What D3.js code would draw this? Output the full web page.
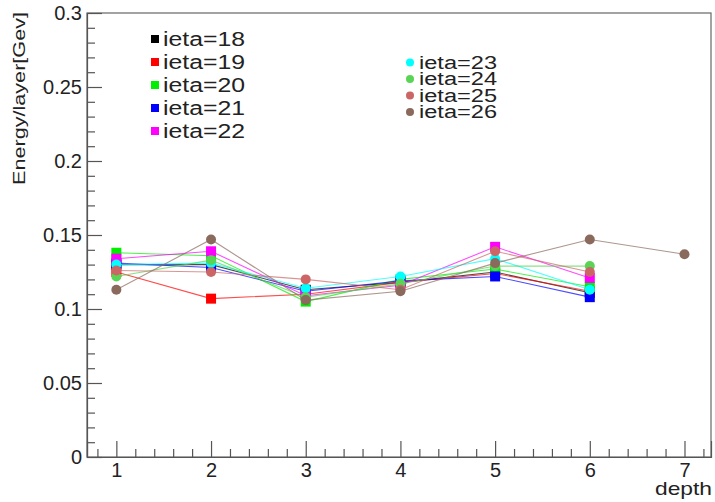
<!DOCTYPE html>
<html>
<head>
<meta charset="utf-8">
<script src="https://cdn.jsdelivr.net/npm/d3@7"></script>
<style>
  body { margin: 0; background: #fff; }
  svg text { font-family: "Liberation Sans", Arial, sans-serif; fill: #222; }
</style>
</head>
<body>
<svg class="scene" width="715" height="502"></svg>
<script>

//
// data
//

var depths = [1, 2, 3, 4, 5, 6, 7];
var series_names = ["ieta=18", "ieta=19", "ieta=20", "ieta=21", "ieta=22",
                    "ieta=23", "ieta=24", "ieta=25", "ieta=26"];
var ieta18 = [0.130, 0.130, 0.113, 0.118, 0.125, 0.111];
var ieta19 = [0.125, 0.107, 0.110, 0.118, 0.124, 0.112];
var ieta20 = [0.138, 0.136, 0.105, 0.120, 0.127, 0.115];
var ieta21 = [0.131, 0.128, 0.112, 0.119, 0.122, 0.108];
var ieta22 = [0.134, 0.139, 0.109, 0.116, 0.142, 0.121];
var ieta23 = [0.130, 0.131, 0.114, 0.122, 0.134, 0.113];
var ieta24 = [0.122, 0.133, 0.108, 0.117, 0.129, 0.129];
var ieta25 = [0.126, 0.125, 0.120, 0.113, 0.139, 0.125];
var ieta26 = [0.113, 0.147, 0.106, 0.112, 0.131, 0.147, 0.137];
var x_ticks = [1, 2, 3, 4, 5, 6, 7];
var y_ticks = [0, 0.05, 0.1, 0.15, 0.2, 0.25, 0.3];

var all_values = [ieta18, ieta19, ieta20, ieta21, ieta22, ieta23, ieta24, ieta25, ieta26];
var colors = ["#000000", "#ff0000", "#00ee00", "#0000ff", "#ff00ff",
              "#00ffff", "#59d454", "#cc6666", "#8a6a5c"];
var markers = ["square", "square", "square", "square", "square",
               "circle", "circle", "circle", "circle"];

var series = series_names.map(function (name, i) {
    return {
        name: name,
        color: colors[i],
        marker: markers[i],
        points: all_values[i].map(function (v, j) { return { x: depths[j], y: v }; })
    };
});

//
// frame and scales
//

var frame_left = 87, frame_right = 711, frame_top = 13, frame_bottom = 457;

var svg = d3.select(".scene");

var x = d3.scaleLinear().domain([0.69, 7.28]).range([frame_left, frame_right]);
var y = d3.scaleLinear().domain([0, 0.3]).range([frame_bottom, frame_top]);

svg.append("rect")
    .attr("x", frame_left)
    .attr("y", frame_top)
    .attr("width", frame_right - frame_left)
    .attr("height", frame_bottom - frame_top)
    .attr("fill", "none")
    .attr("stroke", "#666")
    .attr("stroke-width", 1.2);

// minor ticks
var x_minor = d3.range(0.8, 7.28, 0.2).filter(function (v) {
    return Math.abs(v - Math.round(v)) > 0.01;
});
var y_minor = d3.range(0.01, 0.3, 0.01).filter(function (v) {
    return Math.abs(v * 20 - Math.round(v * 20)) > 0.01;
});

svg.append("g")
    .attr("transform", "translate(0," + frame_bottom + ")")
    .call(d3.axisBottom(x).tickValues(x_minor).tickSize(-8).tickFormat(""))
    .call(function (g) { g.select(".domain").remove(); });

svg.append("g")
    .attr("transform", "translate(" + frame_left + ",0)")
    .call(d3.axisLeft(y).tickValues(y_minor).tickSize(-8).tickFormat(""))
    .call(function (g) { g.select(".domain").remove(); });

// major ticks
svg.append("g")
    .attr("transform", "translate(0," + frame_bottom + ")")
    .call(d3.axisBottom(x).tickValues(x_ticks).tickSize(-16).tickPadding(6)
        .tickFormat(d3.format("d")));

svg.append("g")
    .attr("transform", "translate(" + frame_left + ",0)")
    .call(d3.axisLeft(y).tickValues(y_ticks).tickSize(-15).tickPadding(5)
        .tickFormat(function (d) { return d === 0 ? "0" : String(+d.toFixed(2)); }));

svg.selectAll(".tick line").attr("stroke", "#555").attr("stroke-width", 1.2);
svg.selectAll(".domain").attr("stroke", "#555").attr("stroke-width", 1.2);
svg.selectAll(".tick text").attr("font-size", 20).attr("fill", "#222")
    .style("font-family", "Liberation Sans, Arial, sans-serif");

// axis titles
svg.append("text")
    .attr("x", 712)
    .attr("y", 495)
    .attr("text-anchor", "end")
    .attr("font-size", 19)
    .attr("textLength", 57)
    .attr("lengthAdjust", "spacingAndGlyphs")
    .text("depth");

svg.append("text")
    .attr("transform", "translate(25,12) rotate(-90)")
    .attr("text-anchor", "end")
    .attr("font-size", 17)
    .attr("textLength", 173)
    .attr("lengthAdjust", "spacingAndGlyphs")
    .text("Energy/layer[Gev]");

//
// graphs
//

var line = d3.line()
    .x(function (d) { return x(d.x); })
    .y(function (d) { return y(d.y); });

var graphs = svg.selectAll("g.graph")
    .data(series)
    .enter().append("g")
    .attr("class", "graph");

graphs.append("path")
    .attr("d", function (d) { return line(d.points); })
    .attr("fill", "none")
    .attr("stroke", function (d) { return d.color; })
    .attr("stroke-opacity", 0.7)
    .attr("stroke-width", 1.1);

graphs.each(function (d) {
    var g = d3.select(this);
    if (d.marker === "square") {
        g.selectAll("rect")
            .data(d.points)
            .enter().append("rect")
            .attr("x", function (p) { return x(p.x) - 5; })
            .attr("y", function (p) { return y(p.y) - 5; })
            .attr("width", 10)
            .attr("height", 10)
            .attr("fill", d.color);
    } else {
        g.selectAll("circle")
            .data(d.points)
            .enter().append("circle")
            .attr("cx", function (p) { return x(p.x); })
            .attr("cy", function (p) { return y(p.y); })
            .attr("r", 5)
            .attr("fill", d.color);
    }
});

//
// legends
//

var legend_sq = svg.append("g").selectAll("g")
    .data(series.slice(0, 5))
    .enter().append("g")
    .attr("transform", function (d, i) { return "translate(155," + (39 + i * 23) + ")"; });

legend_sq.append("rect")
    .attr("x", -4).attr("y", -4)
    .attr("width", 8).attr("height", 8)
    .attr("fill", function (d) { return d.color; });

legend_sq.append("text")
    .attr("x", 8)
    .attr("dy", "0.35em")
    .attr("font-size", 20)
    .attr("textLength", 82)
    .attr("lengthAdjust", "spacingAndGlyphs")
    .text(function (d) { return d.name; });

var legend_ci = svg.append("g").selectAll("g")
    .data(series.slice(5))
    .enter().append("g")
    .attr("transform", function (d, i) { return "translate(410," + (62.5 + i * 16.5) + ")"; });

legend_ci.append("circle")
    .attr("r", 4)
    .attr("fill", function (d) { return d.color; });

legend_ci.append("text")
    .attr("x", 9)
    .attr("dy", "0.35em")
    .attr("font-size", 18)
    .attr("textLength", 78)
    .attr("lengthAdjust", "spacingAndGlyphs")
    .text(function (d) { return d.name; });

</script>
</body>
</html>
